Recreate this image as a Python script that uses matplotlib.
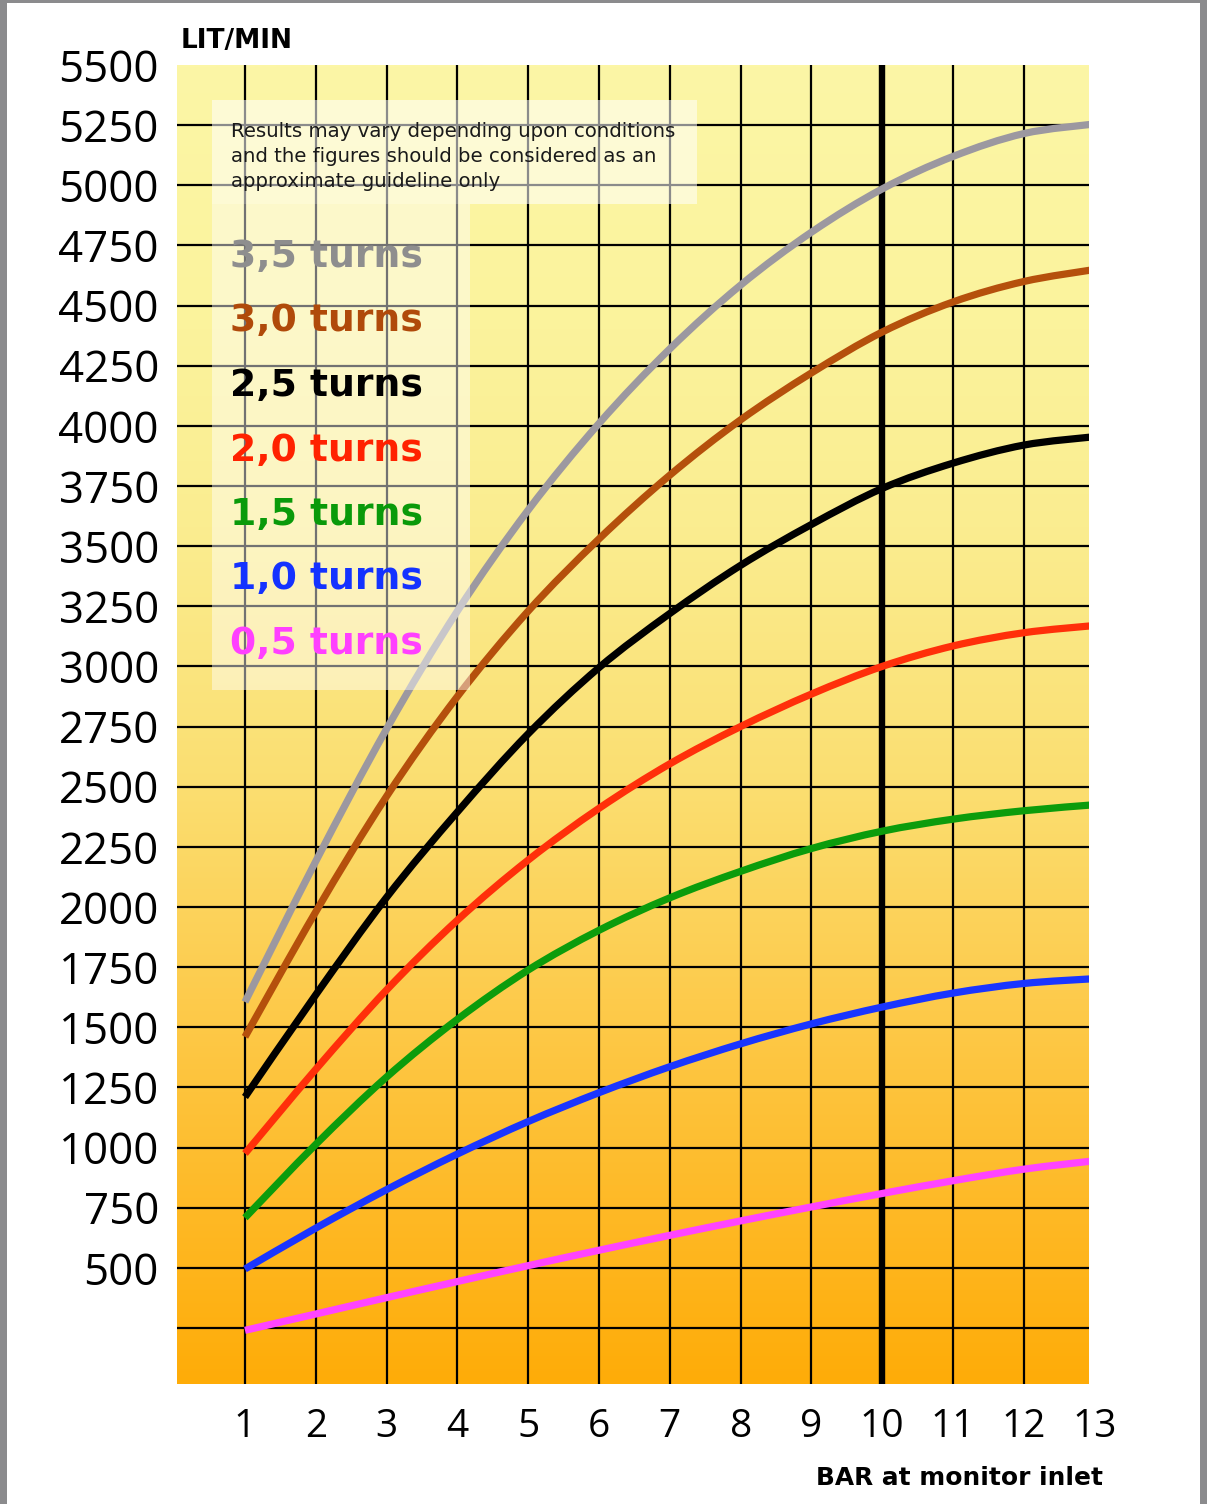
import numpy as np
import matplotlib
matplotlib.use("Agg")
import matplotlib.pyplot as plt
from matplotlib.path import Path
from matplotlib.patches import PathPatch, Rectangle
import matplotlib.transforms as mtransforms

# ---------------- data ----------------
pressure_bar = [1, 2, 3, 4, 5, 6, 7, 8, 9, 10, 11, 12, 13]

flow_3_5 = [1605, 2190, 2740, 3230, 3650, 4010, 4320, 4585, 4805, 4985, 5120, 5215, 5255]
flow_3_0 = [1460, 1980, 2460, 2875, 3230, 3530, 3795, 4025, 4220, 4390, 4515, 4600, 4650]
flow_2_5 = [1210, 1635, 2040, 2395, 2720, 2995, 3220, 3420, 3590, 3740, 3845, 3920, 3955]
flow_2_0 = [975, 1325, 1655, 1945, 2195, 2410, 2595, 2750, 2885, 3000, 3085, 3140, 3170]
flow_1_5 = [708, 1013, 1293, 1533, 1738, 1903, 2038, 2148, 2243, 2315, 2365, 2400, 2425]
flow_1_0 = [495, 665, 825, 973, 1108, 1228, 1336, 1431, 1514, 1584, 1642, 1682, 1702]
flow_0_5 = [240, 308, 376, 443, 509, 573, 635, 695, 753, 809, 862, 910, 945]

series_labels = ["3,5 turns", "3,0 turns", "2,5 turns", "2,0 turns",
                 "1,5 turns", "1,0 turns", "0,5 turns"]
series_values = [flow_3_5, flow_3_0, flow_2_5, flow_2_0, flow_1_5, flow_1_0, flow_0_5]
line_colors = ["#9c98a0", "#b5500c", "#000000", "#ff2f0a", "#0c9c0c", "#1a35ff", "#ff44ff"]
text_colors = ["#8e8e8e", "#b04a0a", "#000000", "#ff2200", "#0a9a0a", "#1432ff", "#ff40ff"]

y_tick_values = list(range(500, 5501, 250))
y_grid_values = list(range(250, 5251, 250))
x_grid_values = list(range(1, 13))
x_tick_values = list(range(1, 14))
highlight_bar = 10

note_lines = ["Results may vary depending upon conditions",
              "and the figures should be considered as an",
              "approximate guideline only"]

# ---------------- figure ----------------
W, H = 1207, 1504
fig = plt.figure(figsize=(W / 100, H / 100), dpi=100)
fig.patch.set_facecolor("white")

ax_l, ax_r, ax_t, ax_b = 177, 1089, 65, 1384
ax = fig.add_axes([ax_l / W, 1 - ax_b / H, (ax_r - ax_l) / W, (ax_b - ax_t) / H])
ax.set_xlim(0.04, 12.92)
ax.set_ylim(17, 5500)

# background gradient (top pale yellow -> bottom orange)
stops = [(0.00, (252, 246, 166)), (0.20, (251, 243, 156)), (0.35, (250, 237, 144)),
         (0.55, (251, 222, 112)), (0.70, (253, 204, 78)), (0.85, (254, 187, 42)),
         (1.00, (255, 172, 8))]
N = 400
t = np.linspace(0, 1, N)
pos = [s[0] for s in stops]
cols = np.array([s[1] for s in stops], dtype=float) / 255
grad = np.zeros((N, 1, 3))
for k in range(3):
    grad[:, 0, k] = np.interp(t, pos, cols[:, k])
ax.imshow(grad, extent=[0, 1, 0, 1], transform=ax.transAxes, aspect="auto",
          zorder=0, interpolation="bilinear")

for sp in ax.spines.values():
    sp.set_visible(False)

# grid
for gv in y_grid_values:
    ax.axhline(gv, color="black", lw=1.6, zorder=1)
for gx in x_grid_values:
    ax.axvline(gx, color="black", lw=1.6, zorder=1)
ax.axvline(highlight_bar, color="black", lw=4.6, zorder=1.5)


def smooth_path(xs, ys):
    pts = np.column_stack([xs, ys]).astype(float)
    n = len(pts)
    verts = [pts[0]]
    codes = [Path.MOVETO]
    for i in range(n - 1):
        p0 = pts[max(i - 1, 0)]
        p1 = pts[i]
        p2 = pts[i + 1]
        p3 = pts[min(i + 2, n - 1)]
        c1 = p1 + (p2 - p0) / 6.0
        c2 = p2 - (p3 - p1) / 6.0
        verts += [c1, c2, p2]
        codes += [Path.CURVE4] * 3
    return Path(verts, codes)


for vals, c in zip(series_values, line_colors):
    patch = PathPatch(smooth_path(pressure_bar, vals), fill=False, edgecolor=c,
                      lw=5.2, capstyle="butt", joinstyle="round", zorder=3)
    ax.add_patch(patch)


def fy(py):
    return (ax_b - py) / (ax_b - ax_t)


def fx(px):
    return (px - ax_l) / (ax_r - ax_l)


# translucent boxes
def px_box(x0, y0, x1, y1, alpha):
    ax.add_patch(Rectangle((fx(x0), fy(y1)), fx(x1) - fx(x0), fy(y0) - fy(y1),
                           transform=ax.transAxes, facecolor="white",
                           edgecolor="none", alpha=alpha, zorder=4))


px_box(212, 100, 697, 204, 0.55)
px_box(212, 204, 470, 690, 0.45)

for i, line in enumerate(note_lines):
    ax.text(fx(231), fy(137 + 25 * i), line, transform=ax.transAxes,
            fontsize=14.2, family="DejaVu Sans", color="#1a1a1a",
            ha="left", va="baseline", zorder=5)

for i, (lab, c) in enumerate(zip(series_labels, text_colors)):
    ax.text(fx(230), fy(267 + 64.5 * i), lab, transform=ax.transAxes,
            fontsize=27.2, family="DejaVu Sans", fontweight="bold", color=c,
            ha="left", va="baseline", zorder=5)

# y ticks
ax.set_yticks(y_tick_values)
ax.set_yticklabels([str(v) for v in y_tick_values], fontsize=31.5, family="Open Sans")
ax.tick_params(axis="y", length=0, pad=13)
ax.set_xticks([])

# x tick labels (13 lies just past the plot edge)
trans = mtransforms.blended_transform_factory(ax.transData, ax.transAxes)
for xv in x_tick_values:
    ax.text(xv, fy(1437), str(xv), transform=trans, fontsize=28, family="Open Sans",
            ha="center", va="baseline", clip_on=False)

fig.text(181 / W, 1 - 48 / H, "LIT/MIN", fontsize=19, family="DejaVu Sans",
         fontweight="bold", ha="left", va="baseline")
fig.text(1103 / W, 1 - 1485 / H, "BAR at monitor inlet", fontsize=17.9,
         family="DejaVu Sans", fontweight="bold", ha="right", va="baseline")

# grey frame of the page
border = "#8b8b8d"
fig.patches.append(Rectangle((0, 0), 7 / W, 1, transform=fig.transFigure,
                             facecolor=border, edgecolor="none"))
fig.patches.append(Rectangle((0, 1 - 3 / H), 1, 3 / H, transform=fig.transFigure,
                             facecolor=border, edgecolor="none"))
fig.patches.append(Rectangle((1200 / W, 0), 7 / W, 1, transform=fig.transFigure,
                             facecolor=border, edgecolor="none"))

fig.savefig("out.png", dpi=100)
